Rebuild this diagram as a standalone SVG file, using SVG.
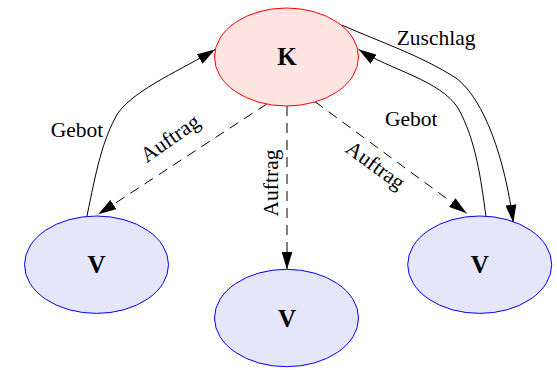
<svg xmlns="http://www.w3.org/2000/svg" width="557" height="370" viewBox="0 0 557 370">
<defs>
<style>
.k{fill:#ffe4e1;stroke:#ff0000;stroke-width:1}
.v{fill:#e6e6fa;stroke:#0000ff;stroke-width:1}
.nl{font-family:"Liberation Serif",serif;font-weight:bold;font-size:25px;text-anchor:middle;fill:#000}
.el{font-family:"Liberation Serif",serif;font-size:21.5px;fill:#000}
.e{fill:none;stroke:#000;stroke-width:1}
.d{stroke-dasharray:10,7}
</style>
<marker id="ah" markerUnits="userSpaceOnUse" viewBox="0 0 18 11" markerWidth="18" markerHeight="11" refX="18" refY="5.5" orient="auto">
<path d="M0,0 L18,5.5 L0,11 z" fill="#000"/>
</marker>
</defs>
<rect width="557" height="370" fill="#fff"/>
<g id="connectors">
<path class="e" d="M87,216 C96,172 102,140 118,113 C135,89 185,68 215,49.5" marker-end="url(#ah)"/>
<path class="e d" d="M266.7,104 L98.3,214.3" marker-end="url(#ah)"/>
<path class="e d" d="M287,106 L287,269.5" marker-end="url(#ah)"/>
<path class="e d" d="M315,101.7 L466.7,213.3" marker-end="url(#ah)"/>
<path class="e" d="M486,216.7 C481,180 476,140 458,108 C440,80 390,70 358.5,49.3" marker-end="url(#ah)"/>
<path class="e" d="M341.7,25 C380,42 420,55 456,78 C485,100 505,160 513.3,222.7" marker-end="url(#ah)"/>
<text class="el" x="50.7" y="136.7">Gebot</text>
<text class="el" x="385" y="125.7">Gebot</text>
<text class="el" x="396.7" y="45">Zuschlag</text>
<text class="el" text-anchor="middle" transform="translate(174.1,144.1) rotate(-35)">Auftrag</text>
<text class="el" text-anchor="middle" transform="translate(278.3,183) rotate(-90)">Auftrag</text>
<text class="el" text-anchor="middle" transform="translate(371.4,171) rotate(36)">Auftrag</text>
</g>
<g id="nodeK">
<ellipse class="k" cx="286.5" cy="57" rx="72" ry="49"/>
<text class="nl" x="287" y="65">K</text>
</g>
<g id="nodeV1">
<ellipse class="v" cx="96.5" cy="264.7" rx="72" ry="48.7"/>
<text class="nl" x="96.5" y="272.7">V</text>
</g>
<g id="nodeV2">
<ellipse class="v" cx="286.5" cy="318" rx="72" ry="48.7"/>
<text class="nl" x="287" y="326.7">V</text>
</g>
<g id="nodeV3">
<ellipse class="v" cx="479.7" cy="264.7" rx="72" ry="48.7"/>
<text class="nl" x="479.7" y="272.7">V</text>
</g>
</svg>
